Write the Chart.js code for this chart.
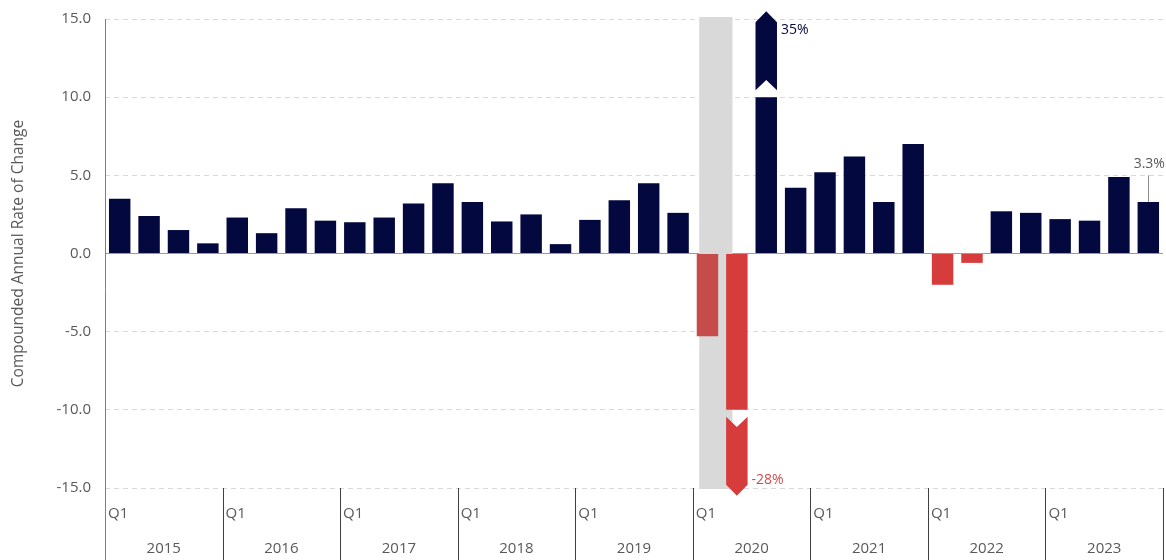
<!DOCTYPE html>
<html>
<head>
<meta charset="utf-8">
<script src="https://cdn.jsdelivr.net/npm/chart.js@4.4.1/dist/chart.umd.min.js"></script>
<style>
  html, body { margin: 0; padding: 0; background: #fff; }
  #wrap { width: 1166px; height: 560px; position: relative; }
</style>
</head>
<body>
<div id="wrap"><canvas id="chart"></canvas></div>
<script>
// chart data
const years = ['2015', '2016', '2017', '2018', '2019', '2020', '2021', '2022', '2023'];
const quarters = ['Q1', 'Q2', 'Q3', 'Q4'];
const values = [
  3.5, 2.4, 1.5, 0.65,
  2.3, 1.3, 2.9, 2.1,
  2.0, 2.3, 3.2, 4.5,
  3.3, 2.05, 2.5, 0.6,
  2.15, 3.4, 4.5, 2.6,
  -5.3, -28, 35, 4.2,
  5.2, 6.2, 3.3, 7.0,
  -2.0, -0.6, 2.7, 2.6,
  2.2, 2.1, 4.9, 3.3
];
const recessionQuarters = ['2020 Q1'];
const yTicks = [-15, -10, -5, 0, 5, 10, 15];
const breakAt = 10; // bars beyond this are cut and drawn as an arrow

const labels = [];
years.forEach(y => quarters.forEach(q => labels.push(y + ' ' + q)));

const NAVY = '#03083f';
const RED = '#d63c3c';
const TEXT = '#595959';
const FONT = "'Open Sans', 'Liberation Sans', sans-serif";

const shown = values.map(v => Math.max(-breakAt, Math.min(breakAt, v)));
const colors = values.map((v, i) => {
  if (v >= 0) return NAVY;
  return recessionQuarters.includes(labels[i]) ? '#c64c4c' : RED;
});

// gray recession band, drawn behind bars
const bandPlugin = {
  id: 'band',
  beforeDatasetsDraw(chart) {
    const { ctx, chartArea, scales } = chart;
    const x = scales.x;
    const step = x.getPixelForValue(1) - x.getPixelForValue(0);
    ctx.save();
    ctx.fillStyle = '#d9d9d9';
    recessionQuarters.forEach(r => {
      const i = labels.indexOf(r);
      const cx = x.getPixelForValue(i);
      ctx.fillRect(cx - 0.28 * step, chartArea.top - 2, 1.13 * step, chartArea.bottom - chartArea.top + 3);
    });
    ctx.restore();
  }
};

// arrows for out of range bars, value notes, two-level x axis
const annotatePlugin = {
  id: 'annotate',
  afterDatasetsDraw(chart) {
    const { ctx, chartArea, scales } = chart;
    const y = scales.y;
    const meta = chart.getDatasetMeta(0);
    ctx.save();
    values.forEach((v, i) => {
      if (Math.abs(v) <= breakAt) return;
      const bar = meta.data[i];
      const half = bar.width / 2;
      const l = bar.x - half, r = bar.x + half;
      const s = v > 0 ? 1 : -1;
      const side = y.getPixelForValue(s * 10.45);
      const notch = y.getPixelForValue(s * 11.1);
      const shoulder = y.getPixelForValue(s * 14.8);
      const tip = y.getPixelForValue(s * 15.5);
      ctx.fillStyle = colors[i];
      ctx.beginPath();
      ctx.moveTo(l, side);
      ctx.lineTo(bar.x, notch);
      ctx.lineTo(r, side);
      ctx.lineTo(r, shoulder);
      ctx.lineTo(bar.x, tip);
      ctx.lineTo(l, shoulder);
      ctx.closePath();
      ctx.fill();
      ctx.font = '14px ' + FONT;
      ctx.textBaseline = 'middle';
      ctx.textAlign = 'left';
      ctx.fillStyle = v > 0 ? NAVY : '#d04a4a';
      const ly = v > 0 ? y.getPixelForValue(14.3) : y.getPixelForValue(-14.5);
      ctx.fillText(Math.round(v) + '%', r + 4, ly);
    });

    // last value callout
    const last = values.length - 1;
    const lb = meta.data[last];
    ctx.strokeStyle = '#8c8c8c';
    ctx.lineWidth = 1;
    ctx.beginPath();
    ctx.moveTo(Math.round(lb.x) + 0.5, y.getPixelForValue(5.0));
    ctx.lineTo(Math.round(lb.x) + 0.5, lb.y);
    ctx.stroke();
    ctx.font = '14px ' + FONT;
    ctx.fillStyle = TEXT;
    ctx.textAlign = 'center';
    ctx.textBaseline = 'alphabetic';
    ctx.fillText(values[last].toFixed(1) + '%', lb.x + 1, y.getPixelForValue(5.0) - 7);

    // x axis: year dividers, Q1 labels, year labels
    const x = scales.x;
    const step = x.getPixelForValue(1) - x.getPixelForValue(0);
    const bottom = chart.height;
    ctx.strokeStyle = '#7f7f7f';
    ctx.beginPath();
    ctx.moveTo(chartArea.left + 0.5, chartArea.top);
    ctx.lineTo(chartArea.left + 0.5, bottom);
    ctx.stroke();
    ctx.font = '15px ' + FONT;
    ctx.fillStyle = TEXT;
    years.forEach((yr, k) => {
      const start = x.getPixelForValue(k * 4) - step / 2;
      const end = start + 4 * step;
      ctx.strokeStyle = '#404040';
      ctx.beginPath();
      ctx.moveTo(Math.round(end) + 0.5, chartArea.bottom);
      ctx.lineTo(Math.round(end) + 0.5, bottom);
      ctx.stroke();
      if (k > 0) {
        ctx.beginPath();
        ctx.moveTo(Math.round(start) + 0.5, chartArea.bottom);
        ctx.lineTo(Math.round(start) + 0.5, bottom);
        ctx.stroke();
      }
      ctx.textAlign = 'left';
      ctx.textBaseline = 'middle';
      ctx.fillText(quarters[0], start + 3, chartArea.bottom + 26);
      ctx.textAlign = 'center';
      ctx.fillText(yr, (start + end) / 2, chartArea.bottom + 61);
    });
    ctx.restore();
  }
};

const ctx = document.getElementById('chart').getContext('2d');
new Chart(ctx, {
  type: 'bar',
  data: {
    labels: labels,
    datasets: [{
      data: shown,
      backgroundColor: colors,
      borderWidth: 0,
      barPercentage: 0.73,
      categoryPercentage: 1.0
    }]
  },
  options: {
    responsive: true,
    maintainAspectRatio: false,
    animation: false,
    layout: { padding: { left: 0, right: 3, top: 19, bottom: 0 } },
    plugins: {
      legend: { display: false },
      tooltip: { enabled: false }
    },
    scales: {
      x: {
        grid: { display: false },
        border: { display: false },
        ticks: { display: false },
        afterFit: scale => { scale.height = 72; }
      },
      y: {
        min: -15,
        max: 15,
        afterFit: scale => {
          scale.width = 105;
          scale.paddingTop = 0;
          scale.paddingBottom = 0;
        },
        afterBuildTicks: scale => { scale.ticks = yTicks.map(v => ({ value: v })); },
        grid: {
          drawTicks: false,
          lineWidth: 1,
          color: c => (c.tick && c.tick.value === 0 ? '#9a9a9a' : '#d9d9d9')
        },
        border: {
          display: false,
          dash: c => (c.tick && c.tick.value === 0 ? [] : [5, 4])
        },
        ticks: {
          padding: 14,
          color: TEXT,
          font: { family: FONT, size: 15 },
          callback: v => Number(v).toFixed(1)
        },
        title: {
          display: true,
          text: 'Compounded Annual Rate of Change',
          color: TEXT,
          font: { family: FONT, size: 15.5 },
          padding: { top: 9, bottom: 0 }
        }
      }
    }
  },
  plugins: [bandPlugin, annotatePlugin]
});
</script>
</body>
</html>
